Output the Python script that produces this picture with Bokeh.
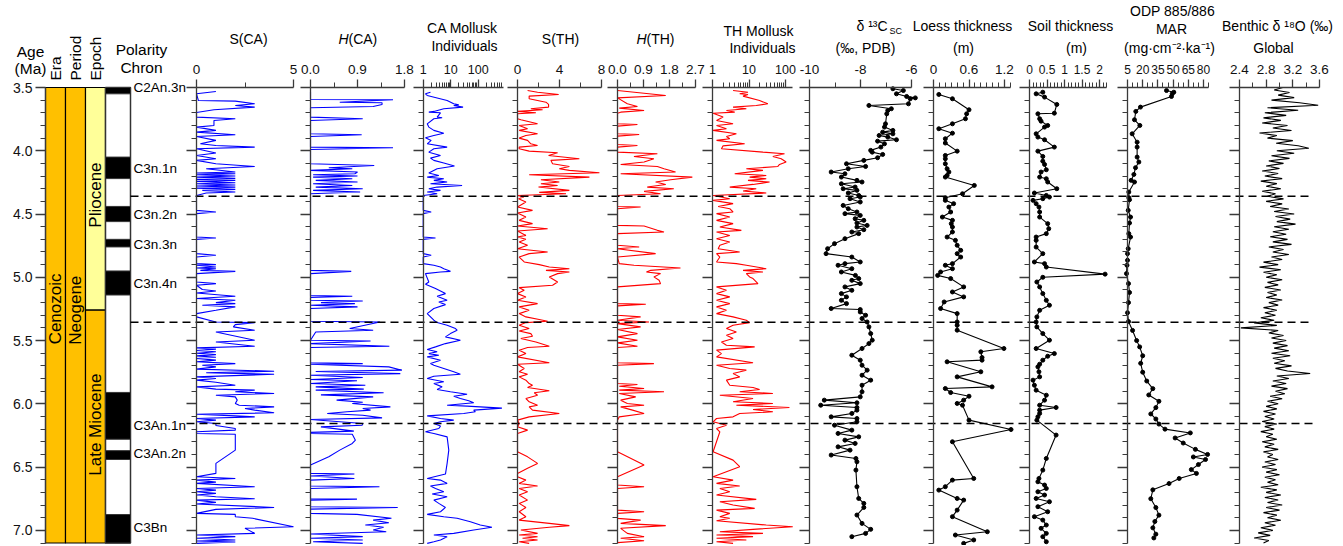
import numpy as np
from bokeh.plotting import figure
from bokeh.models import Range1d, LinearAxis, FixedTicker, LogScale
from bokeh.embed import file_html
from bokeh.resources import INLINE
from bokeh.core.properties import value

FONT = "Liberation Sans"

# ---------------------------------------------------------------- data
AGE_TICKS = [3.5, 4.0, 4.5, 5.0, 5.5, 6.0, 6.5, 7.0]
AGE_LABELS = ["3.5", "4.0", "4.5", "5.0", "5.5", "6.0", "6.5", "7.0"]
AGE_MINOR = [round(3.5 + 0.1 * i, 1) for i in range(1, 37) if i % 5 != 0]

ERA = ["Cenozoic"]
PERIOD = ["Neogene"]
EPOCH_NAMES = ["Pliocene", "Late Miocene"]
EPOCH_TOP = [3.5, 5.26]
EPOCH_BASE = [5.26, 7.1]
EPOCH_COLORS = ["#FFFF99", "#FFC000"]

NORMAL_TOP = [3.50, 4.05, 4.44, 4.70, 4.95, 5.91, 6.37, 6.875]
NORMAL_BASE = [3.55, 4.22, 4.56, 4.76, 5.14, 6.28, 6.44, 7.10]
CHRON_NAMES = ["C2An.3n", "C3n.1n", "C3n.2n", "C3n.3n", "C3n.4n", "C3An.1n", "C3An.2n", "C3Bn"]
CHRON_LABEL_AGE = [3.50, 4.14, 4.50, 4.74, 5.05, 6.17, 6.39, 6.98]

BOUNDARY_AGES = [4.36, 5.355, 6.155]

SCA = [(3.532,1.0),(3.550,0),(3.603,0.1),(3.608,2.0),(3.629,3.0),(3.642,2.0),(3.655,3.0),(3.676,0.9),(3.697,0),(3.734,0),(3.747,2.0),(3.761,0.9),(3.800,0.9),(3.813,0),(3.839,1.0),(3.853,0),(3.874,2.0),(3.887,0),(3.918,1.0),(3.945,0.2),(3.958,1.0),(3.971,3.0),(3.984,0),(4.018,1.0),(4.037,0),(4.063,1.0),(4.076,0),(4.103,1.0),(4.124,3.0),(4.142,0.5),(4.168,2.0),(4.176,0),(4.182,2.0),(4.190,0),(4.200,2.0),(4.208,0),(4.218,2.0),(4.226,0),(4.234,2.0),(4.242,0),(4.253,2.0),(4.261,0),(4.271,2.0),(4.279,0),(4.287,2.0),(4.295,0),(4.305,2.0),(4.313,0.3),(4.326,2.0),(4.334,0.5),(4.353,0),(4.471,0),(4.484,1.0),(4.497,0),(4.682,0),(4.690,1.0),(4.700,0),(4.813,0),(4.826,1.0),(4.840,0),(4.892,0),(4.900,1.0),(4.905,0),(4.919,1.0),(4.926,0),(4.932,1.0),(4.945,0.2),(4.953,2.0),(4.971,0),(5.037,0),(5.050,1.0),(5.063,0),(5.097,0.3),(5.108,1.0),(5.124,0),(5.150,2.0),(5.168,0),(5.182,2.0),(5.200,1.0),(5.208,2.0),(5.221,0.3),(5.234,2.0),(5.261,1.0),(5.287,0),(5.313,0),(5.353,1.0),(5.358,3.0),(5.374,2.0),(5.392,1.9),(5.418,3.0),(5.432,1.0),(5.497,3.0),(5.511,1.0),(5.545,3.0),(5.558,0),(5.568,1.0),(5.579,0),(5.589,1.0),(5.600,0),(5.611,1.0),(5.621,0),(5.632,1.0),(5.642,0),(5.655,1.0),(5.668,0),(5.682,2.0),(5.695,0.3),(5.708,1.0),(5.726,0),(5.742,4.0),(5.755,0.5),(5.766,4.0),(5.787,0),(5.800,1.0),(5.813,0),(5.829,1.0),(5.853,2.0),(5.866,0),(5.884,1.0),(5.892,3.0),(5.905,2.0),(5.918,4.0),(5.932,1.0),(5.945,2.0),(5.971,2.1),(5.997,2.0),(6.011,2.2),(6.024,4.0),(6.037,2.5),(6.050,3.0),(6.071,4.0),(6.082,0),(6.095,2.0),(6.103,3.0),(6.116,0),(6.129,1.0),(6.142,0),(6.155,1.0),(6.171,1.0),(6.195,2.0),(6.208,2.0),(6.221,0),(6.234,0),(6.240,2.0),(6.366,2.0),(6.471,1.0),(6.550,1.0),(6.576,0),(6.590,2.0),(6.603,0),(6.619,1.0),(6.629,0),(6.655,3.0),(6.669,0),(6.682,1.0),(6.695,0),(6.708,1.0),(6.721,0),(6.734,1.0),(6.750,3.0),(6.761,0),(6.779,1.0),(6.792,0),(6.819,4.0),(6.834,1.0),(6.866,0),(6.874,2.0),(6.892,2.0),(6.905,2.9),(6.971,5.0),(6.984,2.5),(7.024,3.0),(7.037,0),(7.050,2.0),(7.063,0),(7.076,2.0),(7.084,0),(7.092,2.0),(7.103,0)]

HCA = [(3.532,0),(3.595,0),(3.597,1.58),(3.616,0.56),(3.621,1.37),(3.634,1.37),(3.650,1.2),(3.660,0),(3.734,0),(3.747,1.0),(3.761,0),(3.866,0),(3.874,0.98),(3.887,0),(3.971,0),(3.976,1.58),(3.990,0),(4.103,0),(4.116,1.22),(4.134,0.35),(4.142,0.8),(4.155,0),(4.168,0.9),(4.182,0.85),(4.190,0.05),(4.200,0.9),(4.208,0.05),(4.221,0.8),(4.234,0.1),(4.247,0.9),(4.261,0.05),(4.274,0.8),(4.287,0.1),(4.300,1.0),(4.313,0.05),(4.326,0.95),(4.340,0),(4.945,0),(4.953,0.78),(4.971,0),(5.145,0),(5.150,0.8),(5.160,0),(5.182,0),(5.187,1.0),(5.200,0.2),(5.208,0.85),(5.221,0),(5.234,0.9),(5.247,0),(5.347,0),(5.353,1.33),(5.405,0.75),(5.418,1.2),(5.432,0.1),(5.497,0),(5.503,1.15),(5.524,0),(5.545,1.51),(5.555,0),(5.676,0),(5.682,1.0),(5.687,0),(5.708,1.5),(5.734,1.75),(5.745,0.1),(5.761,1.72),(5.774,0),(5.792,1.0),(5.808,0),(5.818,0.89),(5.840,0),(5.853,1.05),(5.866,0.1),(5.884,1.02),(5.892,0.1),(5.913,1.4),(5.929,0.2),(5.945,1.2),(5.971,0.5),(5.987,1.0),(5.997,0.8),(6.024,1.53),(6.037,1.0),(6.050,1.15),(6.063,0.7),(6.076,0.32),(6.090,1.0),(6.111,1.37),(6.124,0),(6.155,1.0),(6.169,0.99),(6.182,0.2),(6.216,0.83),(6.226,0),(6.234,0),(6.240,0.8),(6.287,0.86),(6.313,0.8),(6.366,0.56),(6.419,0.35),(6.484,0),(6.550,0),(6.555,0.84),(6.571,0),(6.590,0.84),(6.603,0),(6.650,0),(6.655,1.32),(6.669,0),(6.750,0),(6.753,0.89),(6.761,0),(6.813,0),(6.819,1.67),(6.832,0),(6.866,0),(6.874,0.89),(6.905,1.55),(6.919,1.2),(6.940,1.5),(6.958,1.05),(6.976,1.4),(6.997,1.2),(7.011,1.45),(7.029,0),(7.050,1.0),(7.063,0),(7.076,1.0),(7.090,0.05),(7.103,1.0)]

CAM = [(3.537,1.84),(3.550,1.21),(3.563,1.4),(3.603,7.41),(3.629,12.9),(3.637,19.6),(3.642,12.9),(3.655,28.1),(3.668,5.61),(3.689,2.44),(3.695,1.6),(3.700,4.25),(3.734,3.21),(3.739,4.88),(3.747,2.44),(3.787,1.4),(3.813,1.6),(3.839,2.44),(3.861,5.61),(3.879,2.44),(3.897,1.21),(3.918,1.95),(3.945,1.4),(3.971,7.41),(3.984,2.44),(4.011,1.6),(4.037,4.25),(4.058,1.84),(4.076,2.44),(4.097,5.61),(4.121,13.7),(4.142,3.21),(4.176,1.6),(4.195,3.7),(4.208,1.4),(4.221,5.61),(4.234,2.44),(4.247,7.41),(4.261,1.84),(4.274,25.9),(4.287,3.21),(4.300,1.6),(4.313,4.25),(4.326,1.4),(4.340,3.21),(4.353,1.0),(4.471,1.0),(4.484,1.95),(4.497,1.0),(4.682,1.0),(4.690,2.8),(4.700,1.0),(4.813,1.0),(4.826,1.95),(4.840,1.0),(4.892,1.0),(4.905,2.44),(4.919,4.25),(4.932,5.61),(4.953,9.79),(4.958,4.25),(4.971,1.21),(5.037,1.6),(5.055,1.21),(5.089,2.8),(5.129,6.45),(5.150,3.21),(5.182,7.41),(5.195,3.7),(5.216,6.45),(5.247,2.44),(5.287,1.4),(5.339,2.44),(5.358,3.21),(5.379,7.41),(5.405,14.9),(5.418,17.1),(5.445,9.79),(5.471,6.45),(5.497,22.5),(5.524,6.45),(5.550,2.8),(5.570,1.4),(5.589,3.21),(5.603,1.6),(5.616,3.7),(5.629,1.4),(5.655,4.25),(5.682,1.84),(5.695,2.44),(5.721,5.61),(5.747,12.9),(5.766,22.5),(5.782,2.44),(5.800,1.4),(5.826,5.61),(5.840,2.44),(5.866,4.88),(5.887,3.21),(5.905,9.79),(5.924,39.4),(5.940,12.9),(5.958,22.5),(5.976,45.2),(5.992,68.7),(6.011,7.41),(6.018,39.4),(6.034,728),(6.050,68.7),(6.063,78.9),(6.076,29.8),(6.095,1.4),(6.116,4.25),(6.129,12.9),(6.142,4.25),(6.155,2.44),(6.176,4.25),(6.195,3.7),(6.221,1.21),(6.234,2.44),(6.261,7.41),(6.366,8.52),(6.471,7.41),(6.555,6.45),(6.590,1.4),(6.603,4.25),(6.629,7.41),(6.650,1.84),(6.669,2.8),(6.695,5.61),(6.713,2.12),(6.734,7.41),(6.761,2.44),(6.787,3.7),(6.819,6.45),(6.853,4.25),(6.874,1.4),(6.892,5.61),(6.905,17.1),(6.932,52.0),(6.958,119),(6.976,316),(6.997,68.7),(7.024,12.9),(7.037,2.44),(7.050,7.41),(7.076,4.25),(7.090,2.44),(7.103,1.4)]

STH = [(3.524,0.96),(3.537,1.91),(3.555,3.92),(3.568,1.11),(3.589,1.11),(3.616,2.71),(3.634,2.96),(3.655,2.96),(3.668,1.27),(3.676,2.39),(3.689,0),(3.700,1.75),(3.708,0),(3.747,0),(3.755,0.32),(3.787,1.91),(3.800,0.16),(3.826,0.96),(3.839,0.16),(3.866,1.91),(3.879,0.8),(3.900,0.16),(3.918,0.96),(3.945,1.27),(3.958,1.91),(3.971,0.16),(3.984,0.16),(4.003,1.11),(4.016,3.82),(4.037,2.96),(4.063,5.89),(4.076,3.18),(4.103,3.34),(4.124,4.94),(4.142,3.98),(4.155,4.94),(4.174,7.8),(4.190,1.11),(4.208,6.85),(4.229,2.23),(4.247,3.98),(4.261,2.23),(4.274,3.82),(4.287,2.0),(4.313,4.94),(4.329,2.07),(4.340,4.62),(4.353,0),(4.366,0.6),(4.379,0.1),(4.405,0.8),(4.445,0),(4.471,1.43),(4.492,0),(4.524,0.8),(4.550,0.16),(4.576,1.43),(4.595,0),(4.616,2.87),(4.634,0),(4.669,0.8),(4.682,0),(4.700,0.8),(4.721,0.16),(4.747,0.96),(4.774,0),(4.800,2.87),(4.813,1.11),(4.840,0.16),(4.879,0.64),(4.900,2.07),(4.919,3.03),(4.932,4.94),(4.945,2.71),(4.958,4.94),(4.971,3.82),(4.997,3.03),(5.037,3.82),(5.063,3.34),(5.082,0.16),(5.103,0.64),(5.129,0),(5.155,0.8),(5.182,0),(5.208,1.91),(5.234,0.16),(5.261,1.11),(5.287,0.16),(5.313,0.8),(5.334,2.07),(5.347,2.87),(5.358,0.8),(5.379,0.16),(5.405,1.11),(5.424,0.16),(5.445,1.27),(5.466,1.43),(5.484,0.32),(5.511,1.75),(5.545,3.03),(5.555,0.96),(5.576,0.16),(5.603,0.8),(5.629,0),(5.676,3.03),(5.687,0),(5.721,0.64),(5.747,0.16),(5.766,0.96),(5.787,0.16),(5.813,0.8),(5.840,1.11),(5.853,1.43),(5.871,0.96),(5.897,3.03),(5.913,1.59),(5.932,1.91),(5.958,0.8),(5.984,1.11),(6.011,1.91),(6.024,1.11),(6.050,1.43),(6.076,3.98),(6.103,1.11),(6.129,0),(6.155,0.16),(6.182,0),(6.208,0.96),(6.234,0),(6.379,0),(6.419,0.96),(6.471,1.91),(6.510,0.96),(6.550,0),(6.576,0),(6.603,0.8),(6.629,0.16),(6.650,1.91),(6.669,0.16),(6.695,0.96),(6.721,0.16),(6.761,0.96),(6.787,0.16),(6.819,0.8),(6.853,0.16),(6.892,0.8),(6.919,0.16),(6.945,3.03),(6.963,4.94),(6.976,3.03),(6.997,0.32),(7.024,1.91),(7.037,0.16),(7.050,1.91),(7.063,0.48),(7.076,1.91),(7.090,0.16),(7.103,1.11)]

HTH = [(3.524,0),(3.563,1.67),(3.582,0),(3.629,0.34),(3.650,0.69),(3.663,0.06),(3.682,0.92),(3.695,0.11),(3.703,0),(3.787,0),(3.792,0.69),(3.805,0),(3.866,0),(3.871,0.75),(3.884,0),(3.950,0),(3.958,0.69),(3.971,0),(4.011,0),(4.024,1.38),(4.045,0.57),(4.063,1.26),(4.089,0.92),(4.108,0.11),(4.124,1.38),(4.142,1.61),(4.168,2.01),(4.182,0.11),(4.208,2.59),(4.229,1.84),(4.247,1.32),(4.266,1.67),(4.287,1.03),(4.300,1.95),(4.321,0.92),(4.340,1.49),(4.353,0),(4.440,0),(4.445,0.8),(4.458,0),(4.590,0),(4.595,0.92),(4.629,1.38),(4.642,1.61),(4.655,0),(4.747,0),(4.761,0.75),(4.774,0),(4.813,1.32),(4.840,0),(4.892,0.06),(4.905,0.57),(4.926,2.18),(4.945,1.15),(4.958,1.0),(4.971,1.49),(4.997,1.26),(5.024,1.44),(5.050,1.49),(5.076,0),(5.208,0),(5.213,0.98),(5.226,0),(5.300,0),(5.313,0.8),(5.339,0),(5.353,1.09),(5.366,0),(5.392,0.8),(5.413,0),(5.445,0.69),(5.471,0),(5.497,0.69),(5.518,0),(5.545,0.69),(5.555,0),(5.676,0),(5.682,1.26),(5.695,0),(5.840,0),(5.847,0.69),(5.861,0.06),(5.879,0.92),(5.892,0.06),(5.905,1.61),(5.918,0.06),(5.945,0.63),(5.971,0.11),(5.997,0.34),(6.011,0.92),(6.024,0.11),(6.050,0.52),(6.076,0.92),(6.103,0.06),(6.129,0),(6.379,0),(6.484,0.92),(6.576,0),(6.642,0),(6.655,0.92),(6.669,0),(6.840,0),(6.853,0.92),(6.866,0),(6.905,0),(6.919,0.8),(6.945,0.11),(6.963,1.67),(6.984,0.11),(7.024,0.34),(7.050,0.92),(7.063,0.11),(7.082,0.92),(7.097,0)]

THM = [(3.524,3.66),(3.537,9.38),(3.550,5.56),(3.555,9.38),(3.568,6.86),(3.603,19.5),(3.629,32.9),(3.642,15.8),(3.655,3.66),(3.668,8.45),(3.682,2.41),(3.695,4.06),(3.703,1.04),(3.734,1.95),(3.761,1.29),(3.787,3.66),(3.800,1.29),(3.826,2.41),(3.839,1.04),(3.866,4.51),(3.887,2.41),(3.905,2.97),(3.918,1.29),(3.945,7.61),(3.961,1.95),(3.984,1.76),(4.011,24.1),(4.024,93.9),(4.045,45.1),(4.063,76.1),(4.089,104),(4.108,68.6),(4.124,61.8),(4.142,8.45),(4.155,24.1),(4.182,4.06),(4.195,29.7),(4.208,10.4),(4.221,29.7),(4.234,9.38),(4.247,36.6),(4.266,12.9),(4.287,2.97),(4.300,15.8),(4.318,6.86),(4.334,29.7),(4.353,1.04),(4.379,2.97),(4.392,1.04),(4.418,3.66),(4.440,1.43),(4.458,2.97),(4.484,3.66),(4.497,1.29),(4.524,2.97),(4.550,1.29),(4.576,3.66),(4.603,1.59),(4.629,6.17),(4.642,1.29),(4.669,2.97),(4.695,1.29),(4.721,2.97),(4.747,1.59),(4.774,1.43),(4.800,5.56),(4.813,1.29),(4.840,1.59),(4.879,1.29),(4.892,4.51),(4.905,8.45),(4.932,29.7),(4.945,6.86),(4.958,24.1),(4.971,8.45),(4.997,10.4),(5.010,12.9),(5.050,17.6),(5.076,1.29),(5.103,2.41),(5.129,1.29),(5.155,2.97),(5.182,1.29),(5.208,2.97),(5.234,1.29),(5.261,2.41),(5.287,1.29),(5.313,3.66),(5.339,8.45),(5.358,10.4),(5.379,3.66),(5.405,2.41),(5.432,4.51),(5.458,2.41),(5.484,3.66),(5.511,1.76),(5.537,2.41),(5.550,14.3),(5.576,1.29),(5.603,1.76),(5.629,1.29),(5.676,12.9),(5.695,1.29),(5.721,2.97),(5.734,8.45),(5.761,3.66),(5.787,5.56),(5.813,2.41),(5.853,2.97),(5.871,12.9),(5.887,19.5),(5.905,5.56),(5.918,45.1),(5.932,1.59),(5.958,12.9),(5.984,3.66),(5.997,45.1),(6.011,4.51),(6.029,128),(6.045,12.9),(6.063,45.1),(6.076,5.56),(6.103,3.66),(6.116,1.29),(6.142,1.04),(6.169,2.41),(6.195,1.29),(6.221,1.59),(6.379,1.04),(6.445,3.66),(6.497,5.56),(6.576,1.04),(6.603,3.66),(6.629,1.29),(6.650,5.56),(6.669,1.59),(6.695,2.97),(6.721,1.29),(6.755,15.8),(6.774,1.59),(6.800,3.66),(6.826,14.3),(6.840,1.29),(6.866,2.97),(6.892,1.59),(6.905,2.97),(6.924,1.29),(6.958,29.7),(6.971,158),(6.992,12.9),(7.011,1.59),(7.024,24.1),(7.037,1.29),(7.050,12.9),(7.063,1.29),(7.076,8.45),(7.090,1.29),(7.103,3.66)]

D13C = [(3.510,-6.73),(3.524,-6.32),(3.550,-6.59),(3.571,-6.19),(3.582,-5.85),(3.589,-6.05),(3.629,-6.12),(3.642,-7.67),(3.668,-6.79),(3.682,-6.93),(3.708,-6.97),(3.787,-7.02),(3.813,-7.06),(3.839,-6.73),(3.853,-7.13),(3.866,-6.73),(3.879,-7.27),(3.892,-6.93),(3.913,-6.59),(3.924,-7.33),(3.945,-7.06),(3.971,-7.20),(3.997,-7.60),(4.011,-7.54),(4.029,-7.13),(4.055,-7.33),(4.076,-7.87),(4.103,-8.55),(4.124,-7.80),(4.142,-8.48),(4.168,-9.15),(4.182,-8.61),(4.208,-8.75),(4.234,-8.14),(4.247,-7.94),(4.261,-8.75),(4.287,-8.21),(4.300,-8.68),(4.313,-8.14),(4.334,-8.48),(4.353,-8.07),(4.366,-8.01),(4.379,-8.41),(4.405,-8.01),(4.432,-8.68),(4.458,-8.48),(4.484,-8.14),(4.497,-8.61),(4.511,-8.01),(4.537,-8.21),(4.550,-7.87),(4.571,-8.14),(4.590,-7.74),(4.603,-8.14),(4.624,-7.87),(4.642,-8.34),(4.655,-8.07),(4.695,-8.61),(4.734,-9.02),(4.774,-9.29),(4.813,-9.35),(4.840,-8.34),(4.879,-8.01),(4.892,-8.61),(4.905,-8.88),(4.932,-8.34),(4.958,-8.75),(4.985,-8.20),(5.010,-8.07),(5.024,-8.34),(5.050,-8.01),(5.076,-8.61),(5.103,-8.34),(5.129,-8.75),(5.155,-8.55),(5.182,-8.75),(5.208,-8.55),(5.247,-9.15),(5.255,-8.01),(5.274,-8.01),(5.300,-7.80),(5.326,-7.94),(5.353,-7.74),(5.392,-7.67),(5.445,-7.60),(5.497,-7.54),(5.524,-7.67),(5.563,-7.94),(5.616,-8.34),(5.655,-8.01),(5.695,-7.94),(5.734,-7.74),(5.774,-7.94),(5.813,-7.60),(5.853,-7.94),(5.905,-7.94),(5.945,-8.01),(5.971,-9.42),(5.992,-8.14),(6.011,-9.56),(6.029,-8.14),(6.050,-8.14),(6.076,-8.34),(6.103,-9.15),(6.116,-8.14),(6.142,-8.14),(6.169,-9.02),(6.208,-8.34),(6.234,-8.88),(6.261,-8.07),(6.287,-8.61),(6.313,-8.21),(6.340,-8.88),(6.366,-8.41),(6.405,-9.15),(6.432,-8.18),(6.458,-8.14),(6.524,-8.18),(6.655,-8.14),(6.748,-8.07),(6.787,-7.87),(6.819,-7.87),(6.879,-8.14),(6.945,-7.94),(6.992,-7.60),(7.024,-7.80),(7.050,-8.34)]

LOESS = [(3.555,0.09),(3.589,0.32),(3.676,0.60),(3.708,0.56),(3.747,0.54),(3.787,0.32),(3.826,0.09),(3.861,0.32),(3.905,0.20),(3.939,0.20),(4.003,0.40),(4.037,0.20),(4.063,0.20),(4.103,0.20),(4.142,0.23),(4.168,0.26),(4.195,0.23),(4.208,0.20),(4.274,0.69),(4.340,0.49),(4.371,0.20),(4.392,0.20),(4.418,0.34),(4.445,0.26),(4.484,0.29),(4.524,0.15),(4.550,0.32),(4.576,0.30),(4.603,0.32),(4.642,0.32),(4.682,0.23),(4.708,0.37),(4.747,0.40),(4.787,0.46),(4.813,0.40),(4.840,0.46),(4.892,0.32),(4.905,0.20),(4.932,0.32),(4.958,0.12),(4.985,0.07),(5.010,0.29),(5.076,0.51),(5.116,0.32),(5.155,0.51),(5.195,0.18),(5.247,0.12),(5.287,0.40),(5.353,0.40),(5.379,0.40),(5.418,0.40),(5.563,1.19),(5.589,0.80),(5.634,0.82),(5.655,0.82),(5.668,0.23),(5.747,0.80),(5.787,0.40),(5.866,0.99),(5.879,0.20),(5.911,0.29),(5.940,0.60),(5.971,0.51),(5.997,0.40),(6.011,0.49),(6.129,0.60),(6.203,1.31),(6.300,0.32),(6.590,0.68),(6.603,0.32),(6.655,0.20),(6.682,0.09),(6.748,0.40),(6.761,0.51),(6.840,0.40),(6.892,0.32),(7.011,0.91),(7.037,0.37),(7.076,0.68),(7.103,0.51)]

SOIL = [(3.537,0.38),(3.550,0.19),(3.576,0.43),(3.634,0.78),(3.703,0.71),(3.708,0.24),(3.747,0.29),(3.766,0.33),(3.800,0.52),(3.813,0.43),(3.866,0.19),(3.892,0.24),(3.913,0.43),(3.971,0.71),(4.003,0.24),(4.045,0.38),(4.082,0.38),(4.108,0.43),(4.150,0.48),(4.168,0.33),(4.208,0.29),(4.221,0.48),(4.247,0.52),(4.300,0.78),(4.334,0.14),(4.353,0.48),(4.366,0.57),(4.379,0.38),(4.392,0.10),(4.418,0.19),(4.445,0.27),(4.484,0.29),(4.524,0.29),(4.576,0.52),(4.616,0.55),(4.655,0.48),(4.682,0.19),(4.708,0.19),(4.761,0.19),(4.813,0.38),(4.879,0.14),(4.892,0.43),(4.919,0.48),(4.975,2.16),(5.000,0.38),(5.037,0.21),(5.076,0.29),(5.129,0.38),(5.182,0.48),(5.221,0.57),(5.261,0.29),(5.313,0.21),(5.353,0.19),(5.392,0.21),(5.445,0.38),(5.497,0.57),(5.563,0.19),(5.603,0.71),(5.624,0.52),(5.655,0.38),(5.687,0.29),(5.708,0.24),(5.747,0.27),(5.787,0.29),(5.813,0.10),(5.853,0.14),(5.892,0.19),(5.932,0.48),(5.971,0.43),(6.011,0.29),(6.029,0.76),(6.050,0.29),(6.076,0.29),(6.103,0.24),(6.129,0.21),(6.247,0.76),(6.432,0.48),(6.524,0.38),(6.590,0.27),(6.616,0.24),(6.642,0.43),(6.669,0.48),(6.695,0.24),(6.721,0.43),(6.748,0.19),(6.774,0.57),(6.813,0.24),(6.853,0.52),(6.892,0.14),(6.919,0.38),(6.958,0.48),(6.984,0.33),(7.024,0.48),(7.050,0.38),(7.090,0.48)]

ODP = [(3.524,43.5),(3.537,50.7),(3.550,49.1),(3.571,48.4),(3.655,17.8),(3.689,13.2),(3.755,11.9),(3.800,17.2),(3.866,9.6),(3.932,14.5),(3.971,14.5),(4.050,14.5),(4.089,16.2),(4.134,12.9),(4.187,11.3),(4.234,8.6),(4.247,11.9),(4.326,6.3),(4.371,6.3),(4.387,7.0),(4.471,5.7),(4.524,8.0),(4.571,7.0),(4.655,6.3),(4.682,8.0),(4.774,5.7),(4.813,5.0),(4.866,5.0),(4.905,4.5),(4.971,4.0),(5.05,6),(5.12,7),(5.20,6),(5.28,5),(5.35,6),(5.42,10),(5.50,14),(5.55,17),(5.62,20),(5.68,18),(5.75,20),(5.82,24),(5.88,30),(5.93,26),(5.98,36),(6.03,33),(6.08,28),(6.12,33),(6.16,36),(6.20,42),(6.23,67),(6.27,52),(6.31,60),(6.36,72),(6.40,84),(6.42,70),(6.44,82),(6.48,75),(6.52,68),(6.55,73),(6.59,56),(6.63,46),(6.68,30),(6.75,28),(6.82,33),(6.88,36),(6.93,32),(6.98,30),(7.03,33),(7.06,31)]

BENTHIC = [(3.50,3.05),(3.52,2.92),(3.54,3.15),(3.56,2.98),(3.58,3.22),(3.60,2.88),(3.62,3.30),(3.64,3.58),(3.66,2.82),(3.68,3.28),(3.70,2.78),(3.72,3.10),(3.74,2.76),(3.76,3.02),(3.78,2.74),(3.80,3.12),(3.82,2.90),(3.84,3.18),(3.86,2.70),(3.88,2.96),(3.90,2.82),(3.92,3.20),(3.94,2.95),(3.96,3.28),(3.98,3.44),(4.00,2.96),(4.02,3.22),(4.04,2.88),(4.06,3.15),(4.08,2.84),(4.10,3.06),(4.12,2.80),(4.14,3.00),(4.16,2.74),(4.18,2.98),(4.20,2.78),(4.22,3.04),(4.24,2.72),(4.26,2.96),(4.28,2.80),(4.30,3.02),(4.32,2.74),(4.34,2.94),(4.36,2.82),(4.38,3.06),(4.40,2.80),(4.42,3.04),(4.44,2.86),(4.46,3.14),(4.48,2.92),(4.50,3.22),(4.52,2.94),(4.54,3.16),(4.56,2.96),(4.58,3.24),(4.60,2.92),(4.62,3.14),(4.64,2.90),(4.66,3.10),(4.68,2.86),(4.70,3.12),(4.72,2.90),(4.74,3.18),(4.76,2.84),(4.78,3.06),(4.80,2.90),(4.82,3.14),(4.84,2.88),(4.86,3.04),(4.88,2.76),(4.90,2.98),(4.92,2.70),(4.94,3.02),(4.96,2.76),(4.98,2.96),(5.00,2.80),(5.02,3.04),(5.04,2.82),(5.06,2.98),(5.08,2.78),(5.10,3.02),(5.12,2.82),(5.14,2.96),(5.16,2.80),(5.18,3.04),(5.20,2.84),(5.22,2.98),(5.24,2.76),(5.26,2.96),(5.28,2.78),(5.30,2.94),(5.32,2.72),(5.34,2.92),(5.36,2.62),(5.38,2.96),(5.40,2.42),(5.42,2.98),(5.44,2.84),(5.46,3.06),(5.48,2.88),(5.50,3.10),(5.52,2.90),(5.54,3.12),(5.56,2.92),(5.58,3.14),(5.60,2.88),(5.62,3.16),(5.64,2.90),(5.66,3.08),(5.68,2.92),(5.70,3.18),(5.72,2.94),(5.74,3.12),(5.76,3.46),(5.78,2.96),(5.80,3.14),(5.82,2.90),(5.84,3.10),(5.86,2.88),(5.88,3.12),(5.90,2.94),(5.92,3.08),(5.94,2.86),(5.96,3.04),(5.98,2.82),(6.00,2.98),(6.02,2.80),(6.04,2.96),(6.06,2.76),(6.08,2.94),(6.10,2.78),(6.12,2.92),(6.14,2.74),(6.16,2.96),(6.18,2.78),(6.20,2.92),(6.22,2.72),(6.24,2.90),(6.26,2.80),(6.28,2.96),(6.30,2.74),(6.32,2.92),(6.34,2.78),(6.36,2.98),(6.38,2.76),(6.40,2.90),(6.42,2.82),(6.44,2.98),(6.46,2.78),(6.48,2.94),(6.50,2.74),(6.52,2.96),(6.54,2.80),(6.56,3.00),(6.58,2.78),(6.60,2.94),(6.62,2.82),(6.64,2.98),(6.66,2.72),(6.68,2.96),(6.70,2.80),(6.72,3.02),(6.74,2.78),(6.76,2.98),(6.78,2.82),(6.80,3.04),(6.82,2.80),(6.84,3.00),(6.86,2.76),(6.88,2.96),(6.90,2.82),(6.92,3.02),(6.94,2.78),(6.96,2.94),(6.98,2.72),(7.00,2.90),(7.02,2.68),(7.04,2.86),(7.06,2.62),(7.08,2.84),(7.10,2.76)]

# ---------------------------------------------------------------- layout
W, H = 1340, 545
X_LEFT, X_RIGHT = 0, W              # page pixels covered by the canvas
Y_TOP, Y_BOT = 0, H
AGE_MIN, AGE_MAX = 3.5, 7.1
AGE_Y0, AGE_Y1 = 87, 542.5         # page y of AGE_MIN / AGE_MAX
AXIS_COLOR = "#3a3a3a"
BLUE, RED = "#0000ff", "#ff0000"

k_age = (AGE_MAX - AGE_MIN) / (AGE_Y1 - AGE_Y0)
p = figure(width=W, height=H, output_backend="svg", toolbar_location=None,
           x_range=Range1d(X_LEFT, X_RIGHT),
           y_range=Range1d(AGE_MIN + (Y_BOT - AGE_Y0) * k_age, AGE_MIN + (Y_TOP - AGE_Y0) * k_age),
           x_axis_type=None, y_axis_type=None, min_border=0, outline_line_color=None)
p.background_fill_color = "white"
p.border_fill_color = "white"
p.extra_y_ranges = {"pix": Range1d(Y_BOT, Y_TOP)}

# age-column geometry: column units of 20 px starting at page x 45
COL_X0, COL_W = 45, 20
p.extra_x_ranges["col"] = Range1d((X_LEFT - COL_X0) / COL_W, (X_RIGHT - COL_X0) / COL_W)
COL_EDGES = [0, 1, 2, 3, 4.25]


def style_axis(ax, tick_out=9, minor_out=5, size="13px", standoff=3):
    ax.axis_line_color = AXIS_COLOR
    ax.axis_line_width = 1.3
    ax.major_tick_line_color = AXIS_COLOR
    ax.minor_tick_line_color = AXIS_COLOR
    ax.major_tick_line_width = 1.3
    ax.minor_tick_line_width = 1.0
    ax.major_tick_in = 0
    ax.major_tick_out = tick_out
    ax.minor_tick_in = 0
    ax.minor_tick_out = minor_out
    ax.major_label_text_font = FONT
    ax.major_label_text_font_size = size
    ax.major_label_text_color = "#111111"
    ax.major_label_standoff = standoff


def add_panel(name, log, v0, p0, v1, p1, bounds, major, labels, minor, size="13.5px"):
    if log:
        l0, l1 = np.log10(v0), np.log10(v1)
        k = (l1 - l0) / (p1 - p0)
        rng = Range1d(10 ** (l0 + (X_LEFT - p0) * k), 10 ** (l0 + (X_RIGHT - p0) * k))
        p.extra_x_scales[name] = LogScale()
    else:
        k = (v1 - v0) / (p1 - p0)
        rng = Range1d(v0 + (X_LEFT - p0) * k, v0 + (X_RIGHT - p0) * k)
    p.extra_x_ranges[name] = rng
    top = LinearAxis(x_range_name=name, fixed_location=AGE_MIN, bounds=bounds,
                     ticker=FixedTicker(ticks=major, minor_ticks=minor),
                     major_label_overrides={t: s for t, s in zip(major, labels)})
    style_axis(top, tick_out=8, minor_out=5, size=size, standoff=6)
    p.add_layout(top, "above")
    side = LinearAxis(x_range_name=name, fixed_location=bounds[0], bounds=(AGE_MIN, AGE_MAX),
                      ticker=FixedTicker(ticks=AGE_TICKS, minor_ticks=AGE_MINOR),
                      major_label_overrides={t: "" for t in AGE_TICKS})
    style_axis(side, tick_out=10, minor_out=5)
    p.add_layout(side, "left")


def log_minor(upto):
    return [m * d for d in (1, 10, 100) for m in range(2, 10) if m * d <= upto]


add_panel("sca", False, 0, 196, 5, 293, (0, 5), [0, 5], ["0", "5"], [2.5])
add_panel("hca", False, 0, 310, 1.8, 404, (0, 1.8), [0, 0.9, 1.8], ["0.0", "0.9", "1.8"], [0.45, 1.35])
add_panel("cam", True, 1, 422.7, 100, 477.7, (1, 800), [1, 10, 100], ["1", "10", "100"], log_minor(700), "12.5px")
add_panel("sth", False, 0, 517, 8, 601, (0, 8), [0, 4, 8], ["0", "4", "8"], [2, 6])
add_panel("hth", False, 0, 617, 2.7, 695, (0, 2.7), [0, 0.9, 1.8, 2.7], ["0.0", "0.9", "1.8", "2.7"], [0.45, 1.35, 2.25])
add_panel("thm", True, 1, 712, 100, 785, (1, 160), [1, 10, 100], ["1", "10", "100"], log_minor(90), "12.5px")
add_panel("d13", False, -10, 809, -6, 911, (-10, -6), [-10, -8, -6], ["-10", "-8", "-6"], [-9, -7])
add_panel("loess", False, 0, 933, 1.2, 1004, (0, 1.3), [0, 0.6, 1.2], ["0", "0.6", "1.2"],
          [0.1, 0.2, 0.3, 0.4, 0.5, 0.7, 0.8, 0.9, 1.0, 1.1, 1.3])
add_panel("soil", False, 0, 1029, 2, 1099, (0, 2.2), [0, 0.5, 1, 1.5, 2], ["0", "0.5", "1", "1.5", "2"],
          [0.1, 0.2, 0.3, 0.4, 0.6, 0.7, 0.8, 0.9, 1.1, 1.2, 1.3, 1.4, 1.6, 1.7, 1.8, 1.9, 2.1, 2.2], "12px")
add_panel("odp", False, 5, 1127, 80, 1203, (5, 85), [5, 20, 35, 50, 65, 80], ["5", "20", "35", "50", "65", "80"],
          [10, 15, 25, 30, 40, 45, 55, 60, 70, 75, 85], "12px")
add_panel("ben", False, 2.4, 1239, 3.6, 1319, (2.4, 3.6), [2.4, 2.8, 3.2, 3.6], ["2.4", "2.8", "3.2", "3.6"], [2.6, 3.0, 3.4])

# ---------------------------------------------------------------- age column
p.quad(left=[COL_EDGES[0]], right=[COL_EDGES[1]], top=[AGE_MIN], bottom=[AGE_MAX], x_range_name="col",
       fill_color="#FFC000", line_color="black", line_width=1.2)
p.quad(left=[COL_EDGES[1]], right=[COL_EDGES[2]], top=[AGE_MIN], bottom=[AGE_MAX], x_range_name="col",
       fill_color="#FFC000", line_color="black", line_width=1.2)
p.quad(left=[COL_EDGES[2]] * 2, right=[COL_EDGES[3]] * 2, top=EPOCH_TOP, bottom=EPOCH_BASE, x_range_name="col",
       fill_color=EPOCH_COLORS, line_color="black", line_width=1.2)
p.quad(left=[COL_EDGES[3]], right=[COL_EDGES[4]], top=[AGE_MIN], bottom=[AGE_MAX], x_range_name="col",
       fill_color="white", line_color="#333333", line_width=1.5)
p.quad(left=[COL_EDGES[3]] * len(NORMAL_TOP), right=[COL_EDGES[4]] * len(NORMAL_TOP),
       top=NORMAL_TOP, bottom=NORMAL_BASE, x_range_name="col",
       fill_color="black", line_color="#333333", line_width=1.0)

age_ax = LinearAxis(x_range_name="col", fixed_location=0, bounds=(AGE_MIN, AGE_MAX),
                    ticker=FixedTicker(ticks=AGE_TICKS, minor_ticks=AGE_MINOR),
                    major_label_overrides={t: s for t, s in zip(AGE_TICKS, AGE_LABELS)})
style_axis(age_ax, tick_out=10, minor_out=5, size="14px")
p.add_layout(age_ax, "left")

rot_font = dict(text_font=value(FONT), text_font_size=value("17px"), text_color="black",
                angle=np.pi / 2, text_align="center", text_baseline="middle", x_range_name="col")
p.text(x=[0.5], y=[5.25], text=ERA, **rot_font)
p.text(x=[1.5], y=[5.26], text=PERIOD, **rot_font)
p.text(x=[2.5, 2.5], y=[4.35, 6.165], text=EPOCH_NAMES, **rot_font)

p.text(x=[4.4] * len(CHRON_NAMES), y=CHRON_LABEL_AGE, text=CHRON_NAMES, x_range_name="col",
       text_font=value(FONT), text_font_size=value("13.5px"), text_color="black",
       text_align="left", text_baseline="middle")

# ---------------------------------------------------------------- data series
def series(pairs):
    a, v = zip(*pairs)
    return list(a), list(v)

for name, pairs, color in [("sca", SCA, BLUE), ("hca", HCA, BLUE), ("cam", CAM, BLUE),
                           ("sth", STH, RED), ("hth", HTH, RED), ("thm", THM, RED)]:
    a, v = series(pairs)
    p.line(x=v, y=a, x_range_name=name, line_color=color, line_width=1.1)

for name, pairs in [("d13", D13C), ("loess", LOESS), ("soil", SOIL), ("odp", ODP)]:
    a, v = series(pairs)
    p.line(x=v, y=a, x_range_name=name, line_color="black", line_width=1.1)
    p.scatter(x=v, y=a, x_range_name=name, marker="circle", size=4, color="black")

a, v = series(BENTHIC)
p.line(x=v, y=a, x_range_name="ben", line_color="black", line_width=1.1)

# boundary lines
p.segment(x0=[130, 130, 186], x1=[1313] * 3, y0=BOUNDARY_AGES, y1=BOUNDARY_AGES,
          line_color="black", line_width=1.6, line_dash="8 5")

# ---------------------------------------------------------------- header texts
hdr = dict(y_range_name="pix", text_font=value(FONT), text_color="black",
           text_align="center", text_baseline="middle")
p.text(x=[30, 30, 141, 141], y=[51, 68, 49, 67], text=["Age", "(Ma)", "Polarity", "Chron"],
       text_font_size=value("15.5px"), **hdr)
p.text(x=[0.5, 1.5, 2.5], y=[80, 80, 80], text=["Era", "Period", "Epoch"], x_range_name="col",
       y_range_name="pix", text_font=value(FONT), text_font_size=value("15.5px"), text_color="black",
       angle=np.pi / 2, text_align="left", text_baseline="middle")

TITLE_TEXT = ["S(CA)", "CA Mollusk", "Individuals", "S(TH)", "TH Mollusk", "Individuals",
              "(\u2030, PDB)", "Loess  thickness", "(m)", "Soil  thickness", "(m)",
              "ODP 885/886", "MAR", "(mg\u00b7cm\u207b\u00b2\u00b7ka\u207b\u00b9)", "Global"]
TITLE_X = [248, 462, 464, 560, 758, 762, 865, 964, 963, 1072, 1076, 1172, 1171, 1169, 1273]
TITLE_Y = [38, 27, 45, 38, 30, 47, 47, 25, 47, 25, 47, 10, 28, 47, 47]
p.text(x=TITLE_X, y=TITLE_Y, text=TITLE_TEXT, text_font_size=value("14px"), **hdr)

left_hdr = dict(y_range_name="pix", text_font=value(FONT), text_color="black", text_baseline="middle")
p.text(x=[348, 646], y=[38, 38], text=["H", "H"], text_align="right", text_font_style="italic",
       text_font_size=value("14px"), **left_hdr)
p.text(x=[348, 646], y=[38, 38], text=["(CA)", "(TH)"], text_align="left",
       text_font_size=value("14px"), **left_hdr)
p.text(x=[856], y=[25], text=["\u03b4 \u00b9\u00b3C"], text_align="left",
       text_font_size=value("14px"), **left_hdr)
p.text(x=[889], y=[30], text=["SC"], text_align="left", text_font_size=value("9px"), **left_hdr)
p.text(x=[1277], y=[25], text=["Benthic \u03b4 \u00b9\u2078O (\u2030)"], text_align="center",
       text_font_size=value("14px"), **left_hdr)

open("out.html", "w").write(file_html(p, INLINE))
